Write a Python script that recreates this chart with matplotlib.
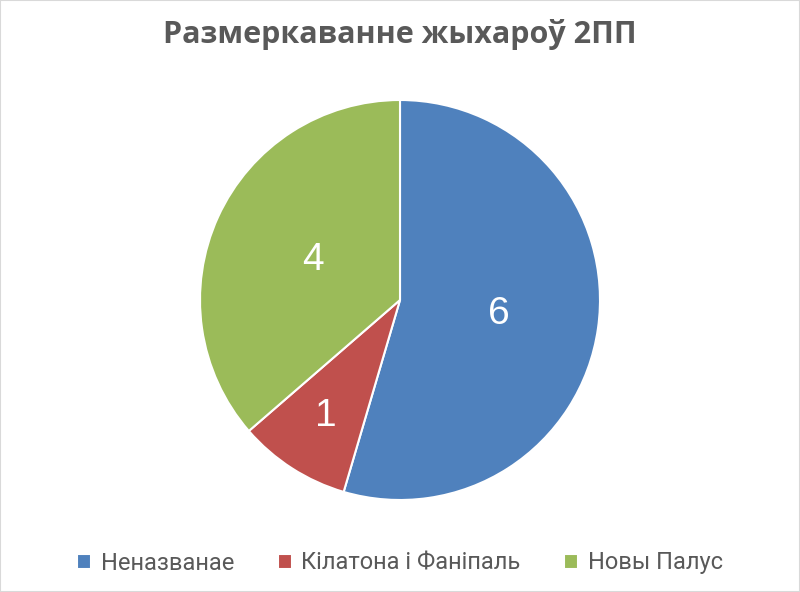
import matplotlib
matplotlib.use("Agg")
import numpy as np
import matplotlib.pyplot as plt
from matplotlib.patches import Rectangle
from matplotlib.font_manager import FontProperties

categories = ["Неназванае", "Кілатона і Фаніпаль", "Новы Палус"]
values = [6, 1, 4]
colors = ["#4F81BD", "#C0504D", "#9BBB59"]
title = "Размеркаванне жыхароў 2ПП"
label_dist = [0.50, 0.69, 0.48]

legend_prop = FontProperties(family="Roboto", size=17)

fig = plt.figure(figsize=(8, 5.92), dpi=100)
ax = fig.add_axes([0.25, 1 - 500 / 592, 0.5, 400 / 592])
wedges, texts = ax.pie(values, colors=colors, startangle=90, counterclock=False,
                       wedgeprops=dict(edgecolor="white", linewidth=1.5))
ax.set_xlim(-1, 1); ax.set_ylim(-1, 1)
ax.set_aspect("equal")
for w, v, d in zip(wedges, values, label_dist):
    ang = np.deg2rad((w.theta1 + w.theta2) / 2)
    ax.text(d * np.cos(ang), d * np.sin(ang), str(v), ha="center", va="center",
            color="white", fontsize=28, family="Liberation Sans")

fig.text(0.5, 1 - 34 / 592, title, ha="center", va="center", fontsize=22,
         fontweight="bold", color="#595959", family="Open Sans")

leg = fig.legend(wedges, categories, loc="center", bbox_to_anchor=(0.5, 1 - 563 / 592),
           ncol=3, frameon=False, handlelength=0.6, handleheight=0.6,
           handletextpad=0.4, columnspacing=1.85,
           prop=legend_prop, labelcolor="#595959")

fig.patches.append(Rectangle((0, 0), 1, 1, transform=fig.transFigure, fill=False,
                             edgecolor="#D9D9D9", linewidth=1.5))
fig.savefig("out.png", dpi=100, facecolor="white")
